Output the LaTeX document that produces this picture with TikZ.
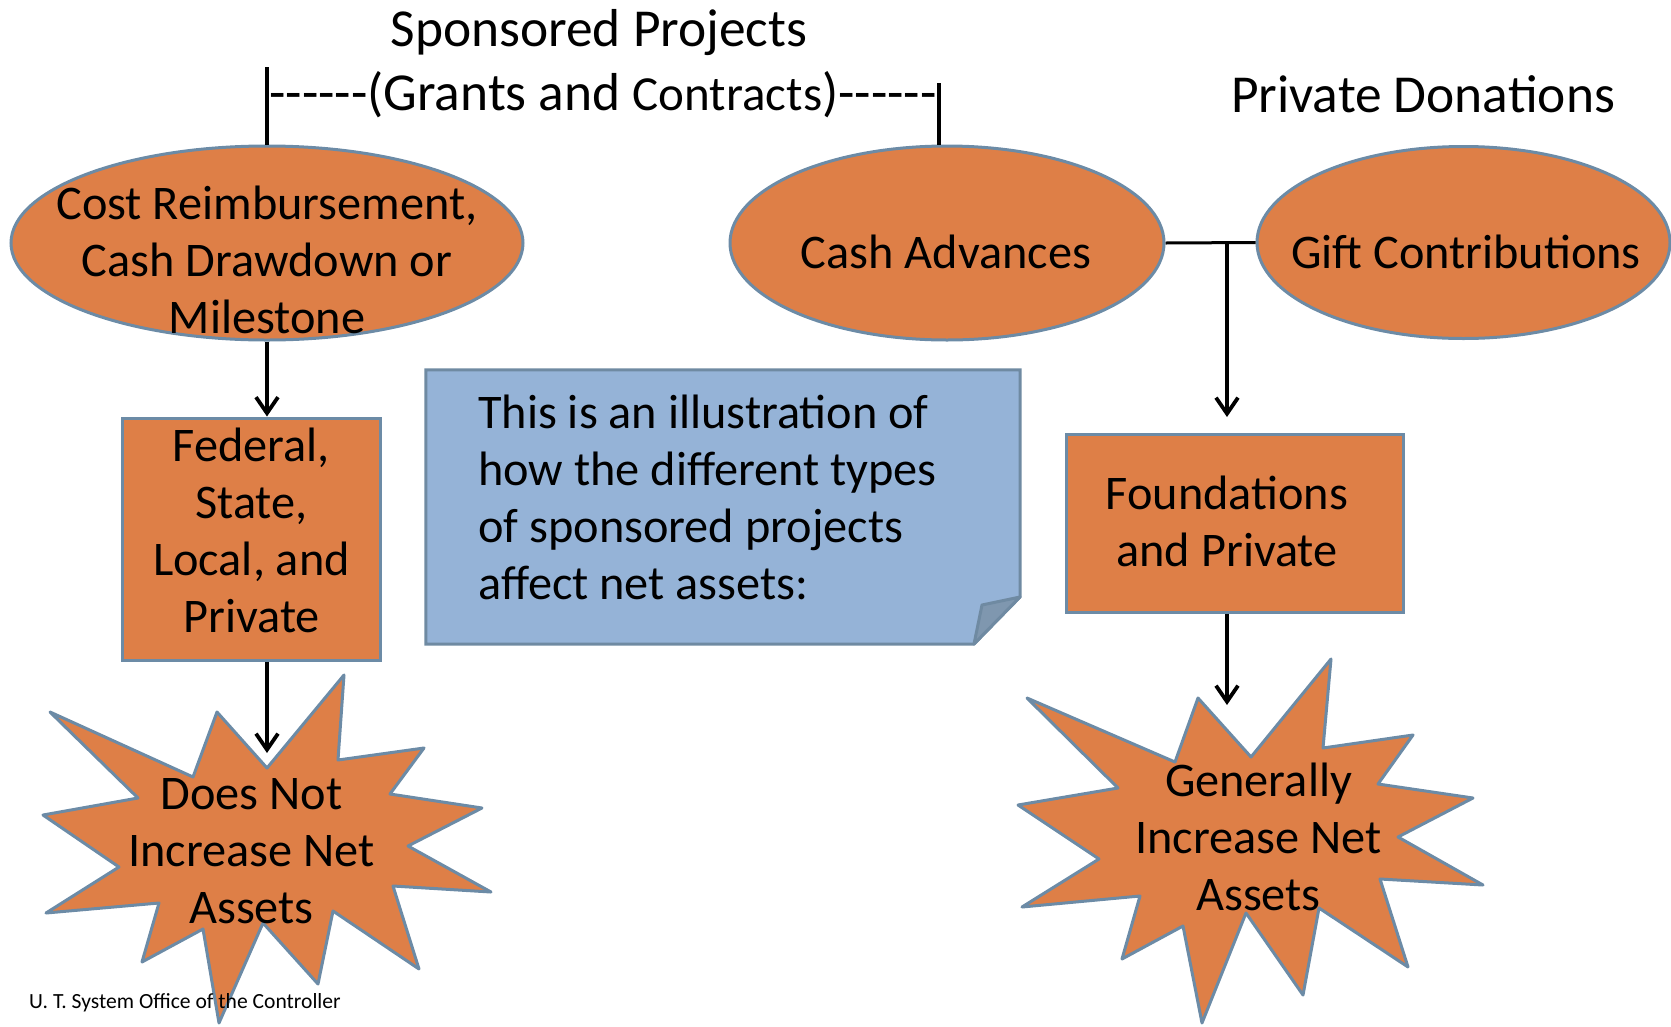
\documentclass[tikz,border=0pt]{standalone}
\usepackage{fontspec}
\setmainfont{Carlito}
\usetikzlibrary{shapes.geometric,arrows.meta,calc}
\definecolor{orangefill}{HTML}{DE7F47}
\definecolor{shapeedge}{HTML}{6C8BA6}
\definecolor{notefill}{HTML}{95B3D7}
\definecolor{noteedge}{HTML}{6F8AA2}
\definecolor{foldfill}{HTML}{7F97AF}
\newcommand\hy{\hbox{-}}
\newcommand\sixhy{\hy\hy\hy\hy\hy\hy}
\tikzset{
  oval/.style={ellipse, draw=shapeedge, fill=orangefill, line width=3pt, inner sep=0pt},
  boxshape/.style={rectangle, draw=shapeedge, fill=orangefill, line width=3pt, inner sep=0pt},
  burst/.style={draw=shapeedge, fill=orangefill, line width=3pt, line join=round},
  bodytext/.style={font=\fontsize{48.3}{57}\selectfont, align=center, inner sep=0pt},
  titletext/.style={font=\fontsize{53.4}{62}\selectfont, inner sep=0pt},
  conn/.style={line width=3pt, black},
  vconn/.style={line width=4pt, black},
  arr/.style={line width=3.8pt, black, -{Straight Barb[length=16pt,width=22pt]}},
}
\begin{document}
\begin{tikzpicture}[x=1pt,y=-1pt]
\useasboundingbox (0,0) rectangle (1671,1026);

% top titles
\node[titletext] (sp) at (599,33) {Sponsored Projects};
\node[titletext] (gc) at (603,95) {\sixhy(Grants and {\fontsize{49}{57}\selectfont Contracts})\sixhy};
\node[titletext] (pd) at (1423,94) {Private Donations};

% ellipses
\node[oval, minimum width=512pt, minimum height=194pt] (cost) at (267,243) {};
\node[oval, minimum width=434pt, minimum height=194pt] (cash) at (947,243) {};
\node[oval, minimum width=413pt, minimum height=192pt] (gift) at (1463.5,242.5) {};

% bracket lines
\coordinate (lt) at (267,67);
\coordinate (rt) at (939,83);
\draw[vconn] (lt) -- (lt |- cost.north);
\draw[vconn] (rt) -- (rt |- cash.north);

% ellipse texts
\node[bodytext] (costtxt) at (267,260) {Cost Reimbursement,\\Cash Drawdown or\\Milestone};
\node[bodytext] (cashtxt) at (946,251.5) {Cash Advances};
\node[bodytext] (gifttxt) at (1466,251.5) {Gift Contributions};

% boxes
\node[boxshape, minimum width=257.5pt, minimum height=242pt] (fed) at (251.25,539) {};
\node[bodytext] (fedtxt) at (251.5,530) {Federal,\\State,\\Local, and\\Private};
\node[boxshape, minimum width=337pt, minimum height=178pt] (found) at (1234.5,523) {};
\node[bodytext] (foundtxt) at (1227,521) {Foundations\\and Private};

% note with folded corner
\node[minimum width=594pt, minimum height=274pt, inner sep=0pt] (note) at (723,507) {};
\coordinate (cutA) at (1020,597);
\coordinate (cutB) at (974,644);
\coordinate (foldP) at (982,605);
\draw[fill=notefill, draw=noteedge, line width=3pt, line join=miter]
  (note.north west) -- (note.north east) -- (cutA) -- (cutB) -- (note.south west) -- cycle;
\draw[fill=foldfill, draw=noteedge, line width=3pt, line join=round]
  (cutB) -- (foldP) -- (cutA) -- cycle;
\node[bodytext, align=left, anchor=west] (notetxt) at (478,497.5)
  {This is an illustration of\\how the different types\\of sponsored projects\\affect net assets:};

% starbursts
\draw[burst] (50,712) -- (193,777) -- (217,712) -- (267,768) -- (344,675) -- (338,760) -- (424,748) -- (390,794) -- (482,808) -- (408,846) -- (491,892) -- (393,886) -- (419,969) -- (333,911) -- (318,984) -- (263,923) -- (219,1023) -- (203,929) -- (142,962) -- (159,903) -- (46,913) -- (119,867) -- (43,815) -- (138,798) -- cycle;
\node[bodytext] (nottxt) at (251.5,851.5) {Does Not\\Increase Net\\Assets};

\draw[burst] (1027,698) -- (1175,762) -- (1198,698) -- (1251,757) -- (1331,659) -- (1323,748) -- (1413,735) -- (1378,784) -- (1473,798) -- (1398,837) -- (1483,885) -- (1380,879) -- (1408,967) -- (1319,908) -- (1303,995) -- (1246,913) -- (1202,1023) -- (1183,926) -- (1122,959) -- (1140,896) -- (1022,907) -- (1099,859) -- (1018,805) -- (1118,788) -- cycle;
\node[bodytext] (gentxt) at (1258.5,837) {Generally\\Increase Net\\Assets};

% connectors
\coordinate (b1top) at (267,753);
\draw[arr] (cost.south) -- (cost.south |- fed.north);
\draw[arr] (cost.south |- fed.south) -- (b1top);

\draw[conn] (cash.east) -- (gift.west);
\coordinate (jn) at (1227,243);
\coordinate (jtip) at (1227,417);
\coordinate (b2top) at (1227,705);
\draw[arr] (jn) -- (jtip);
\draw[arr] (jn |- found.south) -- (b2top);

% footer
\node[anchor=west, inner sep=0pt, font=\fontsize{21.6}{25}\selectfont] (foot) at (29,1003) {U. T. System Office of the Controller};
\end{tikzpicture}
\end{document}
